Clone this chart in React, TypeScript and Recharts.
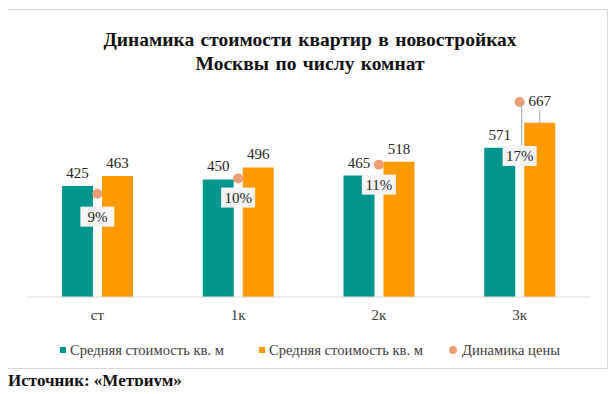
import React from 'react';
import { ComposedChart, Bar, Line, XAxis, YAxis, LabelList, Legend } from 'recharts';

const rooms = ['ст', '1к', '2к', '3к'];
const priceBefore = [425, 450, 465, 571];
const priceAfter = [463, 496, 518, 667];
const priceChange = [8.9, 10.2, 11.4, 16.8];
const changeLabels = ['9%', '10%', '11%', '17%'];

const TEAL = '#00968f';
const ORANGE = '#ff9900';
const DOT = '#ee9e72';
const FONT = '"Liberation Serif", "Times New Roman", serif';

const data = rooms.map((room, i) => ({
  room,
  before: priceBefore[i],
  after: priceAfter[i],
  change: priceChange[i],
  changeLabel: changeLabels[i],
}));

const BarValue = (props: any) => {
  const { x, y, width, value, index, lifted } = props;
  const cx = x + width / 2;
  if (lifted && index === 3) {
    // label pushed up with a leader line, like in the original
    return (
      <g>
        <line x1={cx} x2={cx} y1={y - 12} y2={y} stroke="#a6a6a6" strokeWidth={1} />
        <text x={cx} y={y - 17} textAnchor="middle" fontFamily={FONT} fontSize={15} fill="#262626">
          {value}
        </text>
      </g>
    );
  }
  return (
    <text x={cx} y={y - 8} textAnchor="middle" fontFamily={FONT} fontSize={15} fill="#262626">
      {value}
    </text>
  );
};

const ChangeLabel = (props: any) => {
  const { x, y, index } = props;
  const shift = [23, 19, 20, 54][index] ?? 20;
  const cy = y + shift;
  return (
    <g>
      {index === 3 && <line x1={x + 2} x2={x + 2} y1={y} y2={cy - 11} stroke="#a6a6a6" strokeWidth={1} />}
      <rect x={x - 17} y={cy - 10} width={34} height={20} fill="#f4f4f4" />
      <text x={x} y={cy + 5} textAnchor="middle" fontFamily={FONT} fontSize={15} fill="#262626">
        {changeLabels[index]}
      </text>
    </g>
  );
};

const LegendBox = () => {
  const items = [
    { label: 'Средняя стоимость кв. м', color: TEAL, round: false, width: 199 },
    { label: 'Средняя стоимость кв. м', color: ORANGE, round: false, width: 190 },
    { label: 'Динамика цены', color: DOT, round: true, width: 130 },
  ];
  return (
    <div style={{ height: 32, paddingTop: 13, boxSizing: 'border-box', paddingLeft: 33, display: 'flex' }}>
      {items.map((it, i) => (
        <div key={i} style={{ width: it.width, display: 'flex', alignItems: 'center', lineHeight: '18px' }}>
          <span
            style={{
              width: it.round ? 8 : 6,
              height: it.round ? 8 : 6,
              borderRadius: it.round ? '50%' : 0,
              background: it.color,
              marginRight: it.round ? 5 : 4,
              flex: 'none',
            }}
          />
          <span style={{ fontFamily: FONT, fontSize: 14.6, color: '#404040', whiteSpace: 'nowrap' }}>{it.label}</span>
        </div>
      ))}
    </div>
  );
};

export default function App() {
  return (
    <div style={{ position: 'relative', width: 616, height: 394, margin: -8, background: '#fff' }}>
      <div
        style={{
          position: 'absolute',
          left: 7,
          top: 9,
          width: 601,
          height: 360,
          border: '1px solid #d9d9d9',
          boxSizing: 'border-box',
        }}
      />
      <div
        style={{
          position: 'absolute',
          left: 7,
          top: 28,
          width: 606,
          textAlign: 'center',
          fontFamily: FONT,
          fontWeight: 'bold',
          fontSize: 19.5,
          lineHeight: '24px',
          color: '#111',
          wordSpacing: 1.5,
        }}
      >
        Динамика стоимости квартир в новостройках
        <br />
        Москвы по числу комнат
      </div>
      <div style={{ position: 'absolute', left: 7, top: 9 }}>
        <ComposedChart
          width={601}
          height={360}
          data={data}
          margin={{ top: 79, right: 18, bottom: 10, left: 20 }}
          barSize={31}
          barGap={9}
        >
          <XAxis
            dataKey="room"
            axisLine={{ stroke: '#d9d9d9' }}
            tickLine={false}
            tickMargin={6}
            height={30}
            tick={{ fontFamily: FONT, fontSize: 15, fill: '#404040' }}
          />
          <YAxis yAxisId="price" hide domain={[0, 800]} />
          <YAxis yAxisId="pct" hide orientation="right" domain={[0, 18]} />
          <Bar yAxisId="price" dataKey="before" name="Средняя стоимость кв. м" fill={TEAL} isAnimationActive={false}>
            <LabelList dataKey="before" content={<BarValue />} />
          </Bar>
          <Bar yAxisId="price" dataKey="after" name="Средняя стоимость кв. м" fill={ORANGE} isAnimationActive={false}>
            <LabelList dataKey="after" content={<BarValue lifted />} />
          </Bar>
          <Line
            yAxisId="pct"
            dataKey="change"
            name="Динамика цены"
            stroke="none"
            dot={{ r: 5, fill: DOT, stroke: 'none' }}
            activeDot={false}
            isAnimationActive={false}
          >
            <LabelList dataKey="change" content={<ChangeLabel />} />
          </Line>
          <Legend verticalAlign="bottom" content={<LegendBox />} />
        </ComposedChart>
      </div>
      <div
        style={{
          position: 'absolute',
          left: 8,
          top: 371,
          fontFamily: FONT,
          fontWeight: 'bold',
          fontSize: 17,
          lineHeight: '20px',
          color: '#111',
        }}
      >
        Источник: «Метриум»
      </div>
    </div>
  );
}
